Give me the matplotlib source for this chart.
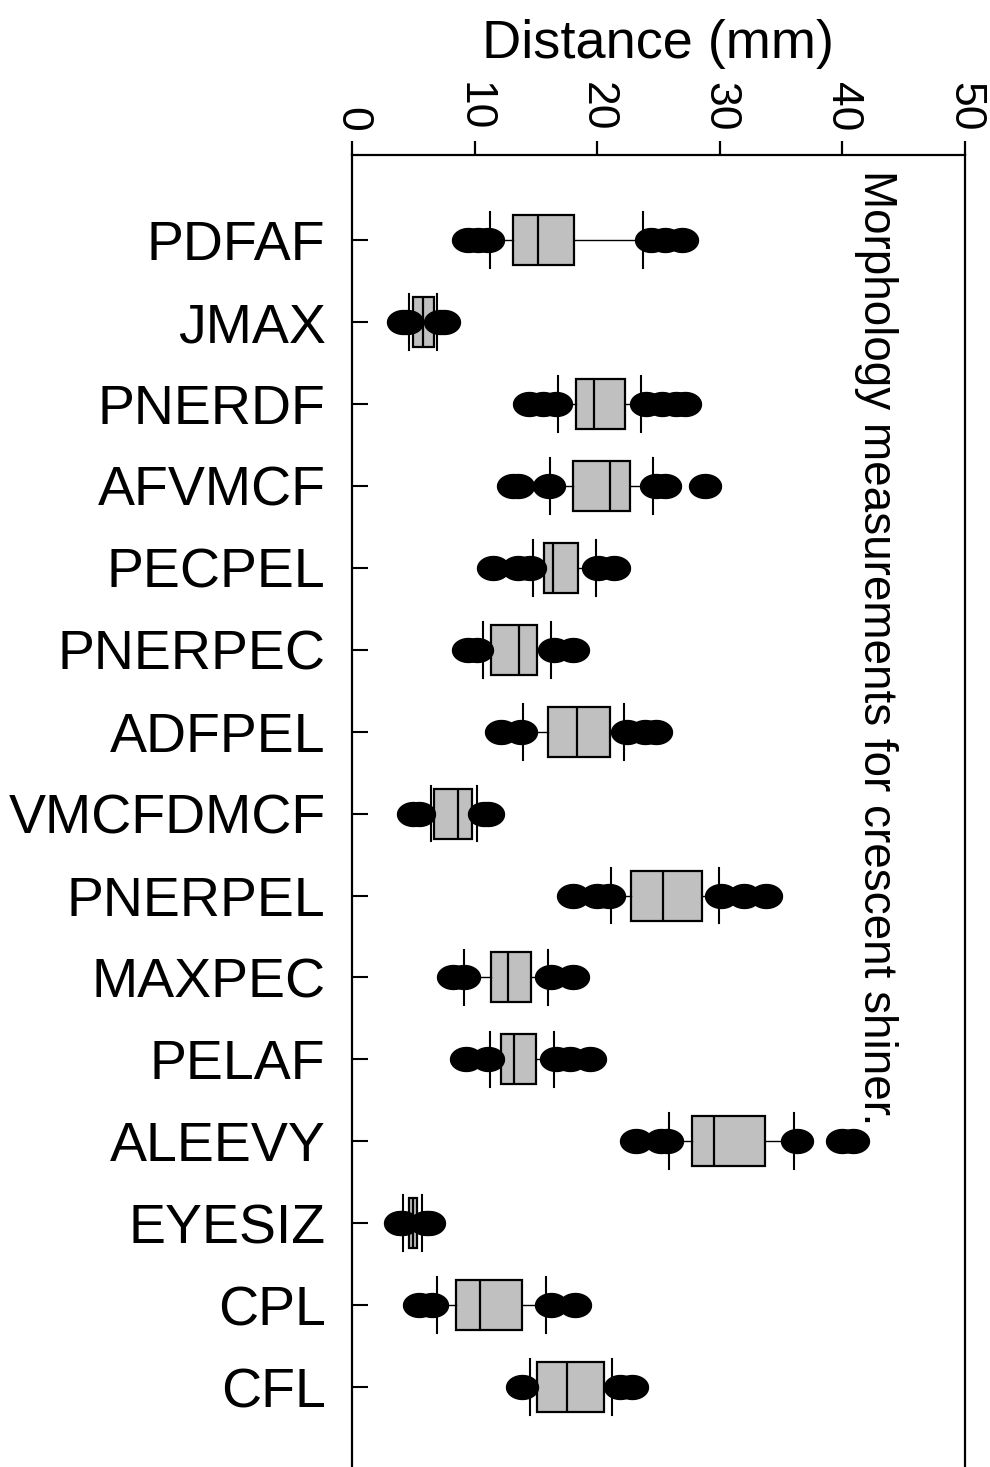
import matplotlib
matplotlib.use("Agg")
import matplotlib.pyplot as plt
import numpy as np
from matplotlib.path import Path

plt.rcParams["font.family"] = ["Liberation Sans", "DejaVu Sans"]

categories = ["PDFAF", "JMAX", "PNERDF", "AFVMCF", "PECPEL", "PNERPEC", "ADFPEL",
              "VMCFDMCF", "PNERPEL", "MAXPEC", "PELAF", "ALEEVY", "EYESIZ", "CPL", "CFL"]
whislo = [11.26, 4.65, 16.8, 16.15, 14.74, 10.71, 13.97, 6.44, 21.13, 9.16, 11.26, 25.83, 4.19, 6.9, 14.5]
q1 = [13.16, 4.95, 18.27, 18.05, 15.69, 11.34, 16.0, 6.72, 22.73, 11.34, 12.15, 27.73, 4.68, 8.5, 15.1]
med = [15.2, 5.82, 19.77, 21.07, 16.43, 13.6, 18.37, 8.67, 25.4, 12.7, 13.21, 29.53, 4.95, 10.4, 17.5]
q3 = [18.13, 6.69, 22.27, 22.7, 18.47, 15.12, 21.04, 9.76, 28.52, 14.57, 15.0, 33.66, 5.28, 13.9, 20.55]
whishi = [23.76, 6.96, 23.57, 24.52, 19.88, 16.23, 22.2, 10.22, 29.96, 16.0, 16.48, 36.05, 5.68, 15.8, 21.2]
fliers = [
    [9.5, 10.3, 11.1, 24.4, 25.5, 26.9],
    [4.2, 4.5, 7.2, 7.5],
    [14.4, 15.6, 16.6, 24.0, 25.3, 26.4, 27.2],
    [13.1, 13.5, 16.1, 24.8, 25.5, 28.8],
    [11.5, 13.5, 14.5, 20.1, 21.4],
    [9.5, 10.2, 16.5, 18.0],
    [12.15, 13.8, 22.4, 23.9, 24.8],
    [5.0, 5.5, 10.8, 11.1],
    [18.0, 20.0, 21.0, 30.1, 32.0, 33.8],
    [8.2, 9.1, 16.2, 18.0],
    [9.3, 11.1, 16.6, 17.8, 19.4],
    [23.2, 25.2, 25.7, 36.3, 40.0, 40.9],
    [3.9, 4.1, 6.0, 6.3],
    [5.5, 6.5, 16.2, 18.2],
    [13.9, 21.9, 22.8],
]

stats = []
for i, name in enumerate(categories):
    stats.append(dict(label=name, whislo=whislo[i], q1=q1[i], med=med[i],
                      q3=q3[i], whishi=whishi[i], fliers=fliers[i]))

# wide ellipse marker for the outliers
t = np.linspace(0, 2 * np.pi, 60)
ellipse = Path(np.column_stack([np.cos(t), 0.75 * np.sin(t)]), closed=True)

fig = plt.figure(figsize=(9.9, 14.67), dpi=100)
ax = fig.add_axes([352 / 990, -2 / 1467, 613 / 990, 1314 / 1467])

pos = np.arange(1, len(categories) + 1)
ax.bxp(stats, positions=pos, orientation="horizontal", widths=0.61,
       capwidths=0.68, patch_artist=True, showfliers=True,
       boxprops=dict(facecolor="#c0c0c0", edgecolor="black", linewidth=1.6),
       medianprops=dict(color="black", linewidth=1.6),
       whiskerprops=dict(color="black", linewidth=1.0),
       capprops=dict(color="black", linewidth=1.5),
       flierprops=dict(marker=ellipse, markersize=23, markerfacecolor="black",
                       markeredgecolor="black", linestyle="none"))

ax.set_xlim(0, 50)
ax.set_ylim(16.0, -0.04)
ax.set_yticks(pos)
ax.set_yticklabels(categories, fontsize=40)
ax.set_xticks([0, 10, 20, 30, 40, 50])
ax.set_xticklabels(["0", "10", "20", "30", "40", "50"], rotation=270, fontsize=32)

ax.xaxis.tick_top()
ax.xaxis.set_label_position("top")
ax.tick_params(axis="x", direction="out", length=10, width=1.6, pad=7)
ax.tick_params(axis="y", direction="in", length=11.5, width=1.5, pad=19, right=False)
ax.set_xlabel("Distance (mm)", fontsize=39, labelpad=17)

for side in ["left", "right", "top"]:
    ax.spines[side].set_linewidth(1.6)
ax.spines["bottom"].set_visible(False)

ax.text(42.7, 0.14, "Morphology measurements for crescent shiner.", rotation=270,
        ha="center", va="top", fontsize=33)

fig.savefig("out.png", dpi=100)
